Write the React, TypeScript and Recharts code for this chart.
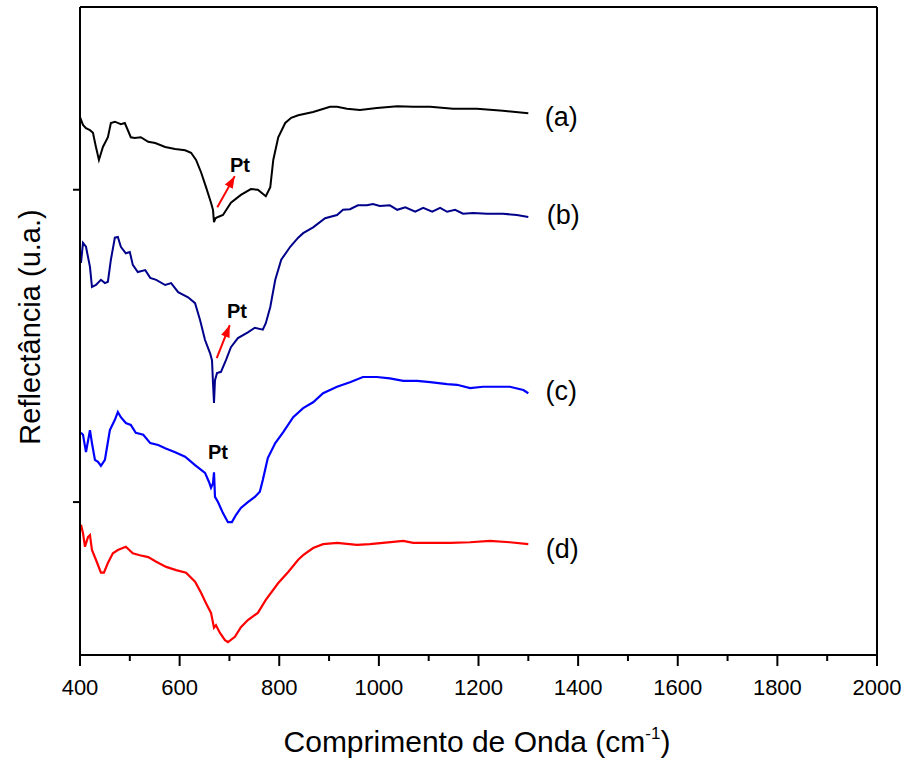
import React from 'react';
import { LineChart, Line, XAxis, YAxis, ReferenceLine, ReferenceDot } from 'recharts';

// wavenumber (cm-1) / reflectance (u.a.)
const A_W = [400, 406, 412, 420, 426, 432, 438, 446, 456, 462, 470, 482, 490, 502, 510, 522, 537, 551, 571, 591, 611, 623, 633, 643, 653, 663, 667, 669, 672, 677, 687, 703, 723, 743, 757, 773, 782, 788, 798, 812, 824, 838, 868, 902, 916, 936, 962, 996, 1037, 1069, 1103, 1149, 1197, 1249, 1300];
const A_V = [83.0, 81.8, 81.3, 81.0, 80.6, 78.4, 76.4, 78.4, 79.9, 82.1, 82.3, 81.9, 82.1, 79.9, 79.8, 79.9, 79.2, 79.0, 78.4, 78.1, 77.9, 77.5, 76.4, 74.5, 72.2, 69.8, 68.7, 66.8, 67.4, 67.6, 67.9, 69.8, 71.0, 71.9, 71.8, 70.8, 72.2, 76.4, 79.9, 82.1, 82.9, 83.3, 83.8, 84.6, 84.6, 84.3, 84.1, 84.4, 84.7, 84.6, 84.6, 84.3, 84.3, 84.0, 83.6];

const B_W = [402, 406, 412, 420, 424, 432, 442, 450, 456, 462, 470, 476, 482, 492, 500, 506, 516, 531, 541, 553, 571, 583, 597, 617, 631, 641, 651, 661, 665, 667, 669, 671, 675, 683, 693, 703, 717, 737, 751, 767, 773, 782, 792, 804, 822, 838, 848, 868, 892, 916, 928, 942, 958, 976, 988, 1002, 1022, 1037, 1053, 1073, 1089, 1107, 1123, 1137, 1153, 1169, 1189, 1217, 1249, 1277, 1300];
const B_V = [60.5, 63.6, 63.0, 59.9, 56.8, 57.1, 57.9, 57.4, 57.6, 61.0, 64.4, 64.5, 63.0, 62.0, 62.2, 60.2, 59.1, 59.4, 58.2, 57.9, 57.1, 57.4, 56.0, 55.2, 54.3, 51.7, 48.6, 46.6, 45.5, 42.0, 38.9, 42.4, 43.5, 43.7, 45.5, 47.5, 48.9, 49.8, 50.5, 50.2, 51.2, 53.7, 57.9, 61.0, 63.0, 64.4, 65.1, 66.0, 67.4, 67.9, 68.7, 68.8, 69.4, 69.4, 69.6, 69.3, 69.4, 68.7, 69.1, 68.4, 69.0, 68.4, 69.0, 68.4, 68.7, 68.1, 68.2, 68.1, 68.1, 67.9, 67.6];

const C_W = [402, 406, 412, 420, 424, 430, 436, 442, 450, 460, 470, 476, 482, 492, 502, 512, 527, 541, 557, 571, 591, 611, 631, 651, 659, 663, 667, 669, 671, 677, 687, 697, 705, 713, 723, 737, 751, 761, 767, 777, 792, 808, 828, 848, 868, 888, 916, 942, 968, 996, 1022, 1049, 1077, 1103, 1137, 1157, 1183, 1209, 1237, 1263, 1290, 1300];
const C_V = [34.3, 34.0, 31.3, 34.7, 32.7, 30.1, 29.8, 29.2, 30.1, 34.7, 36.3, 37.5, 36.7, 35.8, 35.5, 34.3, 34.0, 32.7, 32.4, 31.9, 31.3, 30.6, 29.3, 28.1, 26.7, 25.8, 26.5, 28.2, 24.4, 23.6, 21.9, 20.5, 20.5, 21.6, 22.7, 23.6, 24.4, 25.2, 27.0, 30.4, 32.7, 34.4, 36.7, 38.1, 39.0, 40.4, 41.4, 42.1, 42.9, 42.9, 42.7, 42.3, 42.3, 42.1, 41.8, 41.7, 41.2, 41.4, 41.4, 41.4, 40.9, 40.4];

const D_W = [402, 406, 410, 416, 420, 424, 432, 442, 448, 456, 466, 476, 492, 506, 520, 537, 553, 573, 593, 613, 631, 643, 653, 663, 669, 673, 681, 691, 697, 711, 723, 737, 757, 773, 798, 818, 838, 848, 868, 888, 916, 956, 982, 1008, 1049, 1069, 1103, 1143, 1183, 1223, 1263, 1300];
const D_V = [20.1, 18.8, 16.7, 18.2, 18.5, 16.2, 14.7, 12.7, 12.7, 14.2, 15.7, 16.2, 16.7, 15.7, 15.4, 15.1, 14.4, 13.6, 13.1, 12.7, 11.3, 9.6, 8.0, 6.5, 4.2, 4.6, 3.4, 2.3, 2.0, 2.8, 4.3, 5.4, 6.5, 8.5, 11.1, 12.8, 14.7, 15.4, 16.5, 17.1, 17.3, 17.0, 17.1, 17.3, 17.6, 17.3, 17.3, 17.3, 17.4, 17.6, 17.4, 17.1];

const X_TICKS = [400, 500, 600, 700, 800, 900, 1000, 1100, 1200, 1300, 1400, 1500, 1600, 1700, 1800, 1900, 2000];
const TOP_TICKS = [400, 560, 720, 880, 1040, 1200, 1360, 1520, 1680, 1840, 2000];
const LEFT_TICKS = [23.6, 71.8];
const RIGHT_TICKS = [0, 10, 20, 30, 40, 50, 60, 70, 80, 90, 100];

const LABELS = ['(a)', '(b)', '(c)', '(d)'];
const LABEL_W = [1366, 1370, 1366, 1368];
const LABEL_V = [83.0, 67.9, 40.7, 16.4];

const PT_W = [721, 715, 677];
const PT_V = [75.6, 53.1, 31.3];
// arrows: [tail w, tail v, tip w, tip v]
const ARROWS = [
  [675.7, 69.1, 710.6, 73.9],
  [674.5, 45.8, 700.6, 50.9],
];
const ARROW_ANGLE = [-60.7, -68.5];

const FONT = '"Liberation Sans", Arial, Helvetica, sans-serif';

const zip = (w: number[], v: number[]) => w.map((x, i) => ({ w: x, v: v[i] }));
const seriesA = zip(A_W, A_V);
const seriesB = zip(B_W, B_V);
const seriesC = zip(C_W, C_V);
const seriesD = zip(D_W, D_V);

const bottomTick = (props: any) => {
  const { x, y, payload } = props;
  const major = payload.value % 200 === 0;
  return (
    <g>
      <line x1={x} y1={y} x2={x} y2={y + (major ? 11 : 6)} stroke="#000" strokeWidth={2} />
      {major && (
        <text x={x} y={y + 40} textAnchor="middle" fontSize={22} fontFamily={FONT} fill="#000">
          {payload.value}
        </text>
      )}
    </g>
  );
};

const axisLine = { stroke: '#000', strokeWidth: 2 };

export default function App() {
  return (
    <div style={{ position: 'absolute', left: 0, top: 0, width: 908, height: 764, background: '#fff' }}>
      <LineChart width={908} height={764} margin={{ top: 2, right: 26, left: 70, bottom: 69 }}>
        <XAxis
          xAxisId="bottom"
          dataKey="w"
          type="number"
          domain={[400, 2000]}
          ticks={X_TICKS}
          interval={0}
          tick={bottomTick}
          tickLine={false}
          tickSize={0}
          tickMargin={0}
          height={40}
          axisLine={axisLine}
          allowDataOverflow
        />
        <XAxis
          xAxisId="top"
          orientation="top"
          dataKey="w"
          type="number"
          domain={[400, 2000]}
          ticks={TOP_TICKS}
          interval={0}
          tickFormatter={() => ''}
          tickSize={3}
          tickLine={axisLine}
          height={5}
          axisLine={axisLine}
        />
        <YAxis
          yAxisId="left"
          type="number"
          domain={[0, 100]}
          ticks={LEFT_TICKS}
          interval={0}
          tickFormatter={() => ''}
          tickSize={7}
          tickLine={axisLine}
          width={10}
          axisLine={axisLine}
          allowDataOverflow
        />
        <YAxis
          yAxisId="right"
          orientation="right"
          type="number"
          domain={[0, 100]}
          ticks={RIGHT_TICKS}
          interval={0}
          tickFormatter={() => ''}
          tickSize={3}
          tickLine={axisLine}
          width={5}
          axisLine={axisLine}
        />

        <Line data={seriesA} dataKey="v" xAxisId="bottom" yAxisId="left" type="linear" stroke="#000000" strokeWidth={2} dot={false} isAnimationActive={false} />
        <Line data={seriesB} dataKey="v" xAxisId="bottom" yAxisId="left" type="linear" stroke="#00008b" strokeWidth={2} dot={false} isAnimationActive={false} />
        <Line data={seriesC} dataKey="v" xAxisId="bottom" yAxisId="left" type="linear" stroke="#0000ff" strokeWidth={2.2} dot={false} isAnimationActive={false} />
        <Line data={seriesD} dataKey="v" xAxisId="bottom" yAxisId="left" type="linear" stroke="#ff0000" strokeWidth={2.2} dot={false} isAnimationActive={false} />

        {ARROWS.map((a, i) => (
          <ReferenceLine
            key={'shaft' + i}
            xAxisId="bottom"
            yAxisId="left"
            segment={[{ x: a[0], y: a[1] }, { x: a[2], y: a[3] }]}
            stroke="#ff0000"
            strokeWidth={2}
          />
        ))}
        {ARROWS.map((a, i) => (
          <ReferenceDot
            key={'head' + i}
            xAxisId="bottom"
            yAxisId="left"
            x={a[2]}
            y={a[3]}
            r={1}
            shape={(p: any) => (
              <polygon
                points="0,0 -12,-4.5 -12,4.5"
                fill="#ff0000"
                transform={`translate(${p.cx},${p.cy}) rotate(${ARROW_ANGLE[i]})`}
              />
            )}
          />
        ))}
        {PT_W.map((w, i) => (
          <ReferenceDot
            key={'pt' + i}
            xAxisId="bottom"
            yAxisId="left"
            x={w}
            y={PT_V[i]}
            r={1}
            shape={(p: any) => (
              <text x={p.cx} y={p.cy} textAnchor="middle" dominantBaseline="central" fontSize={20} fontWeight="bold" fontFamily={FONT} fill="#000">
                Pt
              </text>
            )}
          />
        ))}
        {LABELS.map((t, i) => (
          <ReferenceDot
            key={t}
            xAxisId="bottom"
            yAxisId="left"
            x={LABEL_W[i]}
            y={LABEL_V[i]}
            r={1}
            shape={(p: any) => (
              <text x={p.cx} y={p.cy} textAnchor="middle" dominantBaseline="central" fontSize={27} fontFamily={FONT} fill="#000">
                {t}
              </text>
            )}
          />
        ))}
      </LineChart>
      <svg width={908} height={764} style={{ position: 'absolute', left: 0, top: 0, pointerEvents: 'none' }}>
        <text x={477} y={752} textAnchor="middle" fontSize={30} fontFamily={FONT} fill="#000">
          Comprimento de Onda (cm<tspan dy={-13} fontSize={17}>-1</tspan>
          <tspan dy={13}>)</tspan>
        </text>
        <text transform="translate(40,327) rotate(-90)" textAnchor="middle" fontSize={29} fontFamily={FONT} fill="#000">
          Reflectância (u.a.)
        </text>
      </svg>
    </div>
  );
}
